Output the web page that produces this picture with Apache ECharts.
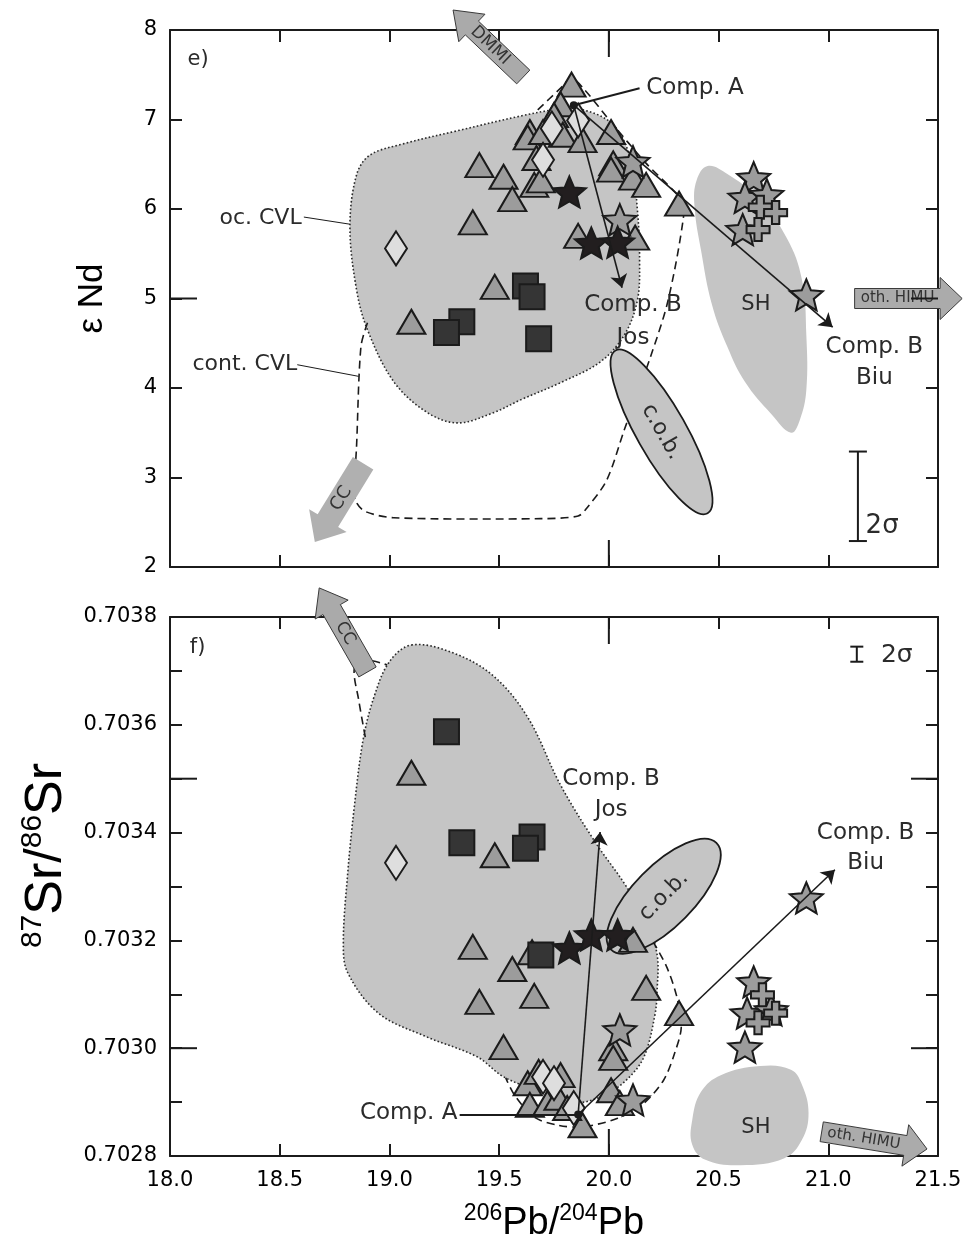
<!DOCTYPE html>
<html>
<head>
<meta charset="utf-8">
<title>εNd and 87Sr/86Sr vs 206Pb/204Pb</title>
<script src="https://cdn.jsdelivr.net/npm/echarts@6.0.0/dist/echarts.min.js"></script>
<style>
html, body { margin: 0; padding: 0; background: #fff; }
#chart { width: 966px; height: 1260px; }
</style>
</head>
<body>
<div id="chart"></div>
<script>
// ---------------- axis ticks ----------------
const pbTicks = [18.0, 18.5, 19.0, 19.5, 20.0, 20.5, 21.0, 21.5];
const ndTicks = [2, 3, 4, 5, 6, 7, 8];
const srTicks = [0.7028, 0.7030, 0.7032, 0.7034, 0.7036, 0.7038];
const pbLongTicks = [20.0];
const ndLongTicks = [5];
const srLongTicks = [0.7030, 0.7035];

// ---------------- panel e): εNd vs 206Pb/204Pb ----------------
const ndTriangles = [
  [19.83, 7.39], [19.78, 7.17], [19.75, 7.05], [19.64, 6.86], [19.63, 6.80],
  [19.70, 6.86], [19.79, 6.83], [19.88, 6.77], [20.01, 6.86], [19.67, 6.57],
  [19.66, 6.27], [19.69, 6.32], [19.52, 6.36], [19.56, 6.11], [19.41, 6.49],
  [19.38, 5.85], [20.02, 6.51], [20.01, 6.44], [20.11, 6.35], [20.17, 6.27],
  [20.32, 6.06], [19.86, 5.70], [20.12, 5.68], [19.48, 5.13], [19.10, 4.74]
];
const ndDiamonds = [[19.03, 5.56], [19.74, 6.90], [19.86, 6.99], [19.70, 6.55]];
const ndSquares = [[19.62, 5.14], [19.65, 5.02], [19.68, 4.55], [19.33, 4.74], [19.26, 4.62]];
const ndBlackStars = [[19.82, 6.19], [19.92, 5.62], [20.04, 5.63]];
const ndGreyStars = [[20.11, 6.53], [20.05, 5.88], [20.90, 5.04], [20.66, 6.35], [20.62, 6.13], [20.72, 6.16], [20.61, 5.77]];
const ndCrosses = [[20.69, 6.02], [20.76, 5.96], [20.68, 5.77]];

const ndCompA = [19.84, 7.16];
const ndCompBJos = [20.06, 5.12];
const ndCompBBiu = [21.02, 4.68];

const ndOcCvl = [
  [19.88, 7.11], [20.02, 6.94], [20.10, 6.55], [20.13, 5.99], [20.14, 5.43], [20.13, 4.98],
  [20.07, 4.59], [19.96, 4.29], [19.78, 4.06], [19.60, 3.87], [19.47, 3.72], [19.31, 3.61],
  [19.17, 3.73], [19.02, 4.07], [18.90, 4.65], [18.85, 5.10], [18.82, 5.80], [18.85, 6.38],
  [18.91, 6.60], [19.05, 6.72], [19.32, 6.88], [19.60, 7.04], [19.76, 7.11]
];
const ndContCvl = [
  [18.90, 4.73], [18.87, 4.46], [18.85, 3.34], [18.84, 2.86], [18.85, 2.72], [18.89, 2.62],
  [19.02, 2.55], [19.69, 2.54], [19.86, 2.57], [19.90, 2.66], [19.99, 2.97], [20.07, 3.53],
  [20.19, 4.35], [20.27, 4.98], [20.34, 5.91], [20.33, 6.10], [20.17, 6.51], [20.01, 6.97],
  [19.89, 7.33], [19.83, 7.46], [19.78, 7.35], [19.66, 7.07]
];
const ndSH = [
  [20.45, 6.48], [20.54, 6.39], [20.68, 6.12], [20.81, 5.68], [20.88, 5.21], [20.90, 4.59],
  [20.90, 3.98], [20.87, 3.64], [20.83, 3.50], [20.74, 3.71], [20.62, 4.07], [20.54, 4.46],
  [20.47, 4.93], [20.42, 5.54], [20.39, 6.04], [20.40, 6.32]
];
const ndCob = { center: [20.24, 3.51], major: [20.45, 2.60], minor: [20.34, 3.64] };
const ndTwoSigma = [21.135, 2.29, 3.29];

const ndArrows = [
  { label: 'DMMI', tail: [19.61, 7.475], tip: [19.29, 8.223], look: 'outlined' },
  { label: 'CC', tail: [18.88, 3.16], tip: [18.66, 2.28], look: 'soft' },
  { label: 'oth. HIMU', tail: [21.12, 5.0], tip: [21.61, 5.0], look: 'flat' }
];

// ---------------- panel f): 87Sr/86Sr vs 206Pb/204Pb ----------------
const srTriangles = [
  [19.10, 0.703511], [19.48, 0.703358], [19.38, 0.703188], [19.56, 0.703147], [19.41, 0.703086],
  [19.66, 0.703097], [19.52, 0.703002], [19.65, 0.703178], [20.11, 0.703201], [20.17, 0.703112],
  [20.32, 0.703065], [20.02, 0.703000], [20.02, 0.702982], [20.01, 0.702922], [20.05, 0.702898],
  [19.88, 0.702857], [19.63, 0.702935], [19.64, 0.702895], [19.68, 0.702956], [19.78, 0.702950],
  [19.72, 0.702898], [19.77, 0.702908], [19.81, 0.702889]
];
const srDiamonds = [[19.03, 0.703344], [19.70, 0.702947], [19.75, 0.702935], [19.84, 0.702889]];
const srSquares = [[19.26, 0.703587], [19.33, 0.703381], [19.65, 0.703392], [19.62, 0.703371], [19.69, 0.703173]];
const srBlackStars = [[19.82, 0.703186], [19.92, 0.703210], [20.04, 0.703210]];
const srGreyStars = [[20.05, 0.703034], [20.11, 0.702904], [20.90, 0.703279], [20.66, 0.703123], [20.63, 0.703065], [20.74, 0.703071], [20.62, 0.703002]];
const srCrosses = [[20.70, 0.703099], [20.76, 0.703065], [20.68, 0.703047]];

const srCompA = [19.86, 0.702877];
const srCompBJos = [19.96, 0.703401];
const srCompBBiu = [21.03, 0.703331];

const srOcCvl = [
  [19.10, 0.703748], [19.28, 0.703735], [19.47, 0.703692], [19.63, 0.703614], [19.78, 0.703488],
  [19.94, 0.703381], [20.07, 0.703306], [20.17, 0.703238], [20.22, 0.703173], [20.22, 0.703108],
  [20.21, 0.703062], [20.16, 0.702984], [20.08, 0.702941], [19.98, 0.702913], [19.85, 0.702899],
  [19.69, 0.702919], [19.52, 0.702947], [19.40, 0.702984], [19.17, 0.703021], [18.95, 0.703065],
  [18.81, 0.703140], [18.79, 0.703195], [18.81, 0.703325], [18.84, 0.703448], [18.88, 0.703572],
  [18.93, 0.703652], [19.00, 0.703717]
];
const srContCvlUpper = [[18.89, 0.703577], [18.86, 0.703646], [18.84, 0.703705], [18.89, 0.703720], [18.99, 0.703711]];
const srContCvlLower = [
  [20.17, 0.703219], [20.26, 0.703154], [20.31, 0.703095], [20.33, 0.703039], [20.30, 0.702991],
  [20.25, 0.702941], [20.16, 0.702898], [20.04, 0.702870], [19.88, 0.702854], [19.77, 0.702857],
  [19.66, 0.702872], [19.57, 0.702913], [19.53, 0.702945]
];
const srSH = [
  [20.38, 0.702867], [20.42, 0.702919], [20.51, 0.702950], [20.69, 0.702967], [20.83, 0.702960],
  [20.88, 0.702932], [20.91, 0.702880], [20.88, 0.702830], [20.80, 0.702796], [20.60, 0.702783],
  [20.44, 0.702793], [20.38, 0.702821]
];
const srCob = { center: [20.25, 0.703282], major: [20.49, 0.703381], minor: [20.15, 0.703321] };
const srTwoSigma = [21.13, 0.703717, 0.703745];

const srArrows = [
  { label: 'CC', tail: [18.90, 0.703698], tip: [18.68, 0.703854], look: 'outlinedWide' },
  { label: 'oth. HIMU', tail: [20.97, 0.702845], tip: [21.45, 0.702813], look: 'flat' }
];

// ---------------- text placement (data coordinates) ----------------
const ndNotes = [
  { text: 'e)', at: [18.08, 7.67], align: 'left', size: 21 },
  { text: 'oc. CVL', at: [18.60, 5.90], align: 'right', size: 22 },
  { text: 'cont. CVL', at: [18.58, 4.26], align: 'right', size: 22 },
  { text: 'Comp. A', at: [20.17, 7.35], align: 'left', size: 23 },
  { text: 'Comp. B\nJos', at: [20.11, 4.74], size: 23, lh: 33 },
  { text: 'SH', at: [20.67, 4.93], size: 21 },
  { text: 'Comp. B\nBiu', at: [21.21, 4.29], size: 23, lh: 31 },
  { text: '2σ', at: [21.17, 2.45], align: 'left', size: 26 }
];
const srNotes = [
  { text: 'f)', at: [18.09, 0.703744], align: 'left', size: 21 },
  { text: 'Comp. A', at: [19.31, 0.702880], align: 'right', size: 23 },
  { text: 'Comp. B\nJos', at: [20.01, 0.703470], size: 23, lh: 31 },
  { text: 'Comp. B\nBiu', at: [21.17, 0.703371], size: 23, lh: 30 },
  { text: 'SH', at: [20.67, 0.702852], size: 21 },
  { text: '2σ', at: [21.24, 0.703729], align: 'left', size: 25 }
];
const ndCompALabelEnd = [20.14, 7.35];
const srCompALabelEnd = [19.32, 0.702877];
const ndFieldLeaders = [
  [[18.61, 5.91], [18.82, 5.83]],
  [[18.58, 4.26], [18.86, 4.13]]
];

// ---------------- styling ----------------
const INK = '#1b1b1b';
const LABEL = '#2b2b2b';
const FIELD = '#c5c5c5';
const FONT = '"DejaVu Sans", sans-serif';
const TFONT = '"Liberation Sans", Arial, sans-serif';
const STAR = 'path://M50,2 L62.7,32.53 L95.65,35.17 L70.54,56.67 L78.21,88.83 L50,71.6 L21.79,88.83 L29.46,56.67 L4.35,35.17 L37.3,32.53 Z';
const CROSS = 'path://M34,0 H66 V34 H100 V66 H66 V100 H34 V66 H0 V34 H34 Z';

const MARKS = {
  tri:   { symbol: 'triangle', size: [28, 24], fill: '#9c9c9c', z: 4 },
  dia:   { symbol: 'diamond',  size: [22, 34], fill: '#dedede', z: 5 },
  sq:    { symbol: 'rect',     size: [25, 25], fill: '#353535', z: 5 },
  gstar: { symbol: STAR,       size: [33, 31], fill: '#9c9c9c', z: 6 },
  bstar: { symbol: STAR,       size: [33, 31], fill: '#221e1f', z: 7 },
  cross: { symbol: CROSS,      size: [23, 23], fill: '#9c9c9c', z: 8 }
};
const ARROW_LOOK = {
  outlined:     { body: 9.5, wing: 19, head: 26, font: 17, at: 0.47, fill: '#aaaaaa', stroke: '#3a3a3a' },
  outlinedWide: { body: 10,  wing: 19, head: 25, font: 17, at: 0.46, fill: '#aaaaaa', stroke: '#3a3a3a' },
  soft:         { body: 12,  wing: 22, head: 25, font: 18, at: 0.45, fill: '#b0b0b0', stroke: null },
  flat:         { body: 10,  wing: 21, head: 22, font: 15, at: 0.40, fill: '#ababab', stroke: '#3a3a3a' }
};

// ---------------- series builders ----------------
function scatter(ax, data, m) {
  return Object.assign({
    type: 'scatter', data, symbol: m.symbol, symbolSize: m.size, z: m.z, silent: true,
    itemStyle: { color: m.fill, borderColor: INK, borderWidth: 2, opacity: 1 }
  }, ax);
}

function shapeSeries(ax, pts, closed, smooth, style, z) {
  return Object.assign({
    type: 'custom', clip: false, silent: true, z, data: pts,
    renderItem(params, api) {
      if (params.dataIndex !== 0) return null;
      return {
        type: closed ? 'polygon' : 'polyline',
        shape: { points: pts.map(p => api.coord(p)), smooth },
        style
      };
    }
  }, ax);
}

function ellipseSeries(ax, e) {
  return Object.assign({
    type: 'custom', clip: false, silent: true, z: 3, data: [e.center],
    renderItem(params, api) {
      const c = api.coord(e.center), a = api.coord(e.major), b = api.coord(e.minor);
      const rx = Math.hypot(a[0] - c[0], a[1] - c[1]);
      const ry = Math.hypot(b[0] - c[0], b[1] - c[1]);
      let ang = Math.atan2(a[1] - c[1], a[0] - c[0]);
      if (ang > Math.PI / 2) ang -= Math.PI;
      if (ang < -Math.PI / 2) ang += Math.PI;
      return {
        type: 'group',
        children: [
          { type: 'ellipse', x: c[0], y: c[1], rotation: -ang, shape: { cx: 0, cy: 0, rx, ry },
            style: { fill: FIELD, stroke: INK, lineWidth: 1.8 } },
          { type: 'text', x: c[0], y: c[1], rotation: -ang,
            style: { text: 'c.o.b.', font: '22px ' + FONT, fill: LABEL, align: 'center', verticalAlign: 'middle' } }
        ]
      };
    }
  }, ax);
}

function arrowSeries(ax, arrows) {
  return Object.assign({
    type: 'custom', clip: false, silent: true, z: 9,
    data: arrows.map(a => a.tail.concat(a.tip)),
    renderItem(params, api) {
      const a = arrows[params.dataIndex];
      const L = ARROW_LOOK[a.look];
      const t = api.coord(a.tail), h = api.coord(a.tip);
      const dx = h[0] - t[0], dy = h[1] - t[1], len = Math.hypot(dx, dy);
      const ux = dx / len, uy = dy / len, nx = -uy, ny = ux;
      const P = (s, w) => [t[0] + ux * s + nx * w, t[1] + uy * s + ny * w];
      const hb = len - L.head;
      const points = [P(0, -L.body), P(hb, -L.body), P(hb, -L.wing), P(len, 0),
                      P(hb, L.wing), P(hb, L.body), P(0, L.body)];
      const tp = P(len * L.at, 0);
      let vx = ux, vy = uy;
      if (vx < 0) { vx = -vx; vy = -vy; }
      return {
        type: 'group',
        children: [
          { type: 'polygon', shape: { points }, style: { fill: L.fill, stroke: L.stroke, lineWidth: 1 } },
          { type: 'text', x: tp[0], y: tp[1], rotation: -Math.atan2(vy, vx),
            style: { text: a.label, font: L.font + 'px ' + FONT, fill: '#333', align: 'center', verticalAlign: 'middle' } }
        ]
      };
    }
  }, ax);
}

function sigmaSeries(ax, s, cap) {
  return Object.assign({
    type: 'custom', clip: false, silent: true, z: 12, data: [s],
    renderItem(params, api) {
      const a = api.coord([s[0], s[1]]), b = api.coord([s[0], s[2]]);
      const st = { stroke: INK, lineWidth: 2 };
      return {
        type: 'group',
        children: [
          { type: 'line', shape: { x1: a[0], y1: a[1], x2: b[0], y2: b[1] }, style: st },
          { type: 'line', shape: { x1: a[0] - cap / 2, y1: a[1], x2: a[0] + cap / 2, y2: a[1] }, style: st },
          { type: 'line', shape: { x1: b[0] - cap / 2, y1: b[1], x2: b[0] + cap / 2, y2: b[1] }, style: st }
        ]
      };
    }
  }, ax);
}

function noteSeries(ax, notes) {
  return Object.assign({
    type: 'custom', clip: false, silent: true, z: 12, data: notes.map(n => n.at),
    renderItem(params, api) {
      const n = notes[params.dataIndex];
      const p = api.coord(n.at);
      return {
        type: 'text', x: p[0], y: p[1],
        style: { text: n.text, font: n.size + 'px ' + FONT, fill: LABEL,
                 align: n.align || 'center', verticalAlign: 'middle', lineHeight: n.lh || Math.round(n.size * 1.2) }
      };
    }
  }, ax);
}

// longer ticks on all four sides of a panel
function longTickSeries(ax, xs, ys, xLo, yLo) {
  const data = xs.map(v => [v, yLo, 0]).concat(ys.map(v => [xLo, v, 1]));
  return Object.assign({
    type: 'custom', clip: false, silent: true, z: 12, data,
    renderItem(params, api) {
      const cs = params.coordSys;
      const p = api.coord([api.value(0), api.value(1)]);
      const st = { stroke: INK, lineWidth: 2 };
      const L = 27;
      if (api.value(2) === 0) {
        return { type: 'group', children: [
          { type: 'line', shape: { x1: p[0], y1: cs.y + cs.height, x2: p[0], y2: cs.y + cs.height - L }, style: st },
          { type: 'line', shape: { x1: p[0], y1: cs.y, x2: p[0], y2: cs.y + L }, style: st }
        ] };
      }
      return { type: 'group', children: [
        { type: 'line', shape: { x1: cs.x, y1: p[1], x2: cs.x + L, y2: p[1] }, style: st },
        { type: 'line', shape: { x1: cs.x + cs.width, y1: p[1], x2: cs.x + cs.width - L, y2: p[1] }, style: st }
      ] };
    }
  }, ax);
}

function linesSeries(ax, segs, width, arrow, z) {
  return Object.assign({
    type: 'lines', coordinateSystem: 'cartesian2d', silent: true, z,
    symbol: arrow ? ['none', 'arrow'] : 'none', symbolSize: 13,
    lineStyle: { color: INK, width, opacity: 1, curveness: 0 },
    data: segs.map(c => ({ coords: c }))
  }, ax);
}

function panelSeries(g, P) {
  const ax = { xAxisIndex: 2 * g, yAxisIndex: 2 * g };
  const s = [];
  s.push(shapeSeries(ax, P.oc, true, 0.35,
    { fill: FIELD, stroke: '#2a2a2a', lineWidth: 1.6, lineDash: [1.6, 2.2] }, 1));
  s.push(shapeSeries(ax, P.sh, true, 0.4, { fill: FIELD, stroke: null }, 1));
  P.cont.forEach(line => s.push(shapeSeries(ax, line, false, 0.3,
    { fill: null, stroke: INK, lineWidth: 1.6, lineDash: [8, 5] }, 2)));
  s.push(ellipseSeries(ax, P.cob));
  s.push(scatter(ax, P.tri, MARKS.tri));
  s.push(scatter(ax, P.dia, MARKS.dia));
  s.push(scatter(ax, P.sq, MARKS.sq));
  s.push(scatter(ax, P.gstar, MARKS.gstar));
  s.push(scatter(ax, P.bstar, MARKS.bstar));
  s.push(scatter(ax, P.cross, MARKS.cross));
  s.push(arrowSeries(ax, P.arrows));
  s.push(linesSeries(ax, [[P.compA, P.jos], [P.compA, P.biu]], 1.6, true, 10));
  s.push(linesSeries(ax, [[P.compALabel, P.compA]], 2, false, 10));
  if (P.leaders.length) s.push(linesSeries(ax, P.leaders, 1, false, 10));
  s.push(Object.assign({
    type: 'scatter', data: [P.compA], symbol: 'circle', symbolSize: 8, z: 11, silent: true,
    itemStyle: { color: INK, opacity: 1 }
  }, ax));
  s.push(sigmaSeries(ax, P.sigma, P.sigmaCap));
  s.push(noteSeries(ax, P.notes));
  s.push(longTickSeries(ax, pbLongTicks, P.longY, pbTicks[0], P.yLo));
  return s;
}

// ---------------- axes ----------------
const axisLine = { show: true, onZero: false, lineStyle: { color: INK, width: 2 } };
const tickStyle = { color: INK, width: 2 };
const tickLabel = { fontSize: 21, color: '#000', fontFamily: FONT };

function pbAxis(g, pos, labels) {
  return {
    type: 'value', gridIndex: g, position: pos,
    min: pbTicks[0], max: pbTicks[pbTicks.length - 1], interval: pbTicks[1] - pbTicks[0],
    axisLine, axisTick: { show: true, inside: true, length: 12, lineStyle: tickStyle },
    axisLabel: Object.assign({ show: labels, margin: 14, formatter: v => v.toFixed(1) }, tickLabel),
    splitLine: { show: false }
  };
}
function ndAxis(pos, labels) {
  return {
    type: 'value', gridIndex: 0, position: pos,
    min: ndTicks[0], max: ndTicks[ndTicks.length - 1], interval: ndTicks[1] - ndTicks[0],
    axisLine, axisTick: { show: true, inside: true, length: 12, lineStyle: tickStyle },
    axisLabel: Object.assign({ show: labels, margin: 13, formatter: v => String(v) }, tickLabel),
    splitLine: { show: false }
  };
}
function srAxis(pos, labels) {
  return {
    type: 'value', gridIndex: 1, position: pos,
    min: srTicks[0], max: srTicks[srTicks.length - 1], interval: 0.0002,
    axisLine, axisTick: { show: true, inside: true, length: 12, lineStyle: tickStyle },
    minorTick: { show: true, splitNumber: 2, length: 12, lineStyle: tickStyle },
    axisLabel: Object.assign({ show: labels, margin: 13, formatter: v => v.toFixed(4) }, tickLabel),
    splitLine: { show: false }, minorSplitLine: { show: false }
  };
}

const pbTitleAxis = Object.assign(pbAxis(1, 'bottom', true), {
  name: '{s|206}{m|Pb/}{s|204}{m|Pb}', nameLocation: 'middle', nameGap: 46,
  nameTextStyle: { rich: {
    s: { fontSize: 23, fontFamily: TFONT, color: '#000', verticalAlign: 'top', lineHeight: 24 },
    m: { fontSize: 38, fontFamily: TFONT, color: '#000', lineHeight: 44 }
  } }
});
const ndTitleAxis = Object.assign(ndAxis('left', true), {
  name: 'ε Nd', nameLocation: 'middle', nameGap: 60, nameRotate: 90,
  nameTextStyle: { fontSize: 35, fontFamily: TFONT, color: '#000' }
});
const srTitleAxis = Object.assign(srAxis('left', true), {
  name: '{s|87}{m|Sr/}{s|86}{m|Sr}', nameLocation: 'middle', nameGap: 80, nameRotate: 90,
  nameTextStyle: {
    padding: [0, 0, 0, 62],
    rich: {
      s: { fontSize: 30, fontFamily: TFONT, color: '#000', verticalAlign: 'top', lineHeight: 30 },
      m: { fontSize: 52, fontFamily: TFONT, color: '#000', lineHeight: 58 }
    }
  }
});

const option = {
  animation: false,
  backgroundColor: '#ffffff',
  textStyle: { fontFamily: FONT },
  grid: [
    { left: 170, top: 30, width: 768, height: 537, containLabel: false, outerBoundsMode: 'none' },
    { left: 170, top: 617, width: 768, height: 539, containLabel: false, outerBoundsMode: 'none' }
  ],
  xAxis: [pbAxis(0, 'bottom', false), pbAxis(0, 'top', false), pbTitleAxis, pbAxis(1, 'top', false)],
  yAxis: [ndTitleAxis, ndAxis('right', false), srTitleAxis, srAxis('right', false)],
  series: [].concat(
    panelSeries(0, {
      oc: ndOcCvl, sh: ndSH, cont: [ndContCvl], cob: ndCob,
      tri: ndTriangles, dia: ndDiamonds, sq: ndSquares, gstar: ndGreyStars, bstar: ndBlackStars, cross: ndCrosses,
      arrows: ndArrows, compA: ndCompA, jos: ndCompBJos, biu: ndCompBBiu, compALabel: ndCompALabelEnd,
      leaders: ndFieldLeaders, sigma: ndTwoSigma, sigmaCap: 18, notes: ndNotes,
      longY: ndLongTicks, yLo: ndTicks[0]
    }),
    panelSeries(1, {
      oc: srOcCvl, sh: srSH, cont: [srContCvlUpper, srContCvlLower], cob: srCob,
      tri: srTriangles, dia: srDiamonds, sq: srSquares, gstar: srGreyStars, bstar: srBlackStars, cross: srCrosses,
      arrows: srArrows, compA: srCompA, jos: srCompBJos, biu: srCompBBiu, compALabel: srCompALabelEnd,
      leaders: [], sigma: srTwoSigma, sigmaCap: 13, notes: srNotes,
      longY: srLongTicks, yLo: srTicks[0]
    })
  )
};

const chart = echarts.init(document.getElementById('chart'), null, { renderer: 'canvas', width: 966, height: 1260 });
chart.setOption(option);
</script>
</body>
</html>
